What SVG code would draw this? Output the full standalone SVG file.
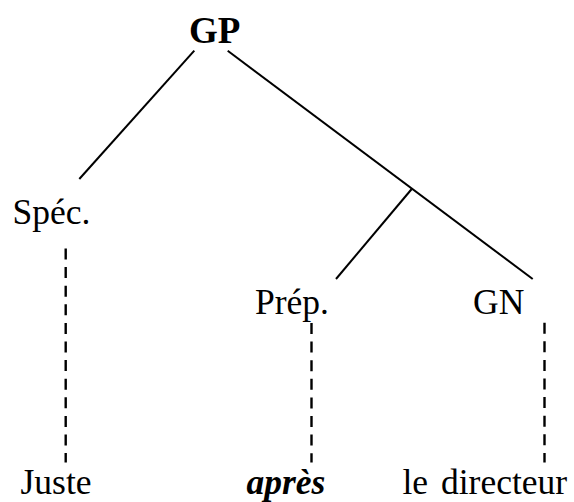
<svg xmlns="http://www.w3.org/2000/svg" width="574" height="502" viewBox="0 0 574 502">
<style>
text { font-family: "Liberation Serif", "Times New Roman", serif; font-size: 35.5px; fill: #000; }
.bold { font-weight: bold; font-size: 37px; }
.bi { font-weight: bold; font-style: italic; }
.edge { stroke: #000; stroke-width: 2; fill: none; }
.dash { stroke: #000; stroke-width: 2.4; fill: none; stroke-dasharray: 11 7.6; }
</style>
<rect width="574" height="502" fill="#fff"/>
<g id="connectors">
  <line class="edge" x1="194.3" y1="50.7" x2="79.3" y2="179"/>
  <line class="edge" x1="227.7" y1="50.7" x2="532.7" y2="279"/>
  <line class="edge" x1="411.7" y1="189" x2="336" y2="279"/>
  <line class="dash" x1="65.7" y1="248.5" x2="65.7" y2="462.5"/>
  <line class="dash" x1="311.5" y1="323" x2="311.5" y2="462.5"/>
  <line class="dash" x1="544.5" y1="322.7" x2="544.5" y2="462.5"/>
</g>
<g id="node-gp"><text class="bold" x="189" y="43">GP</text></g>
<g id="node-spec"><text x="12.5" y="223.5">Spéc.</text></g>
<g id="node-prep"><text x="255" y="314">Prép.</text></g>
<g id="node-gn"><text x="473" y="314">GN</text></g>
<g id="node-juste"><text x="20.5" y="494">Juste</text></g>
<g id="node-apres"><text class="bi" x="246.5" y="494">après</text></g>
<g id="node-directeur"><text x="402.5" y="494" word-spacing="4">le directeur</text></g>
</svg>
